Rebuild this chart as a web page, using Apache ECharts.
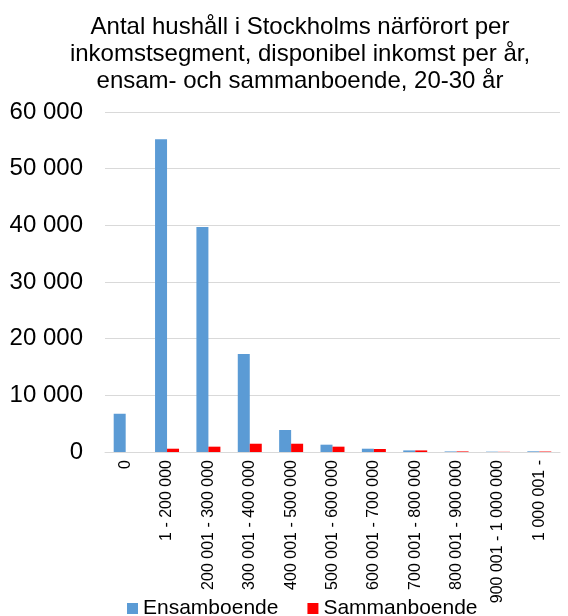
<!DOCTYPE html>
<html>
<head>
<meta charset="utf-8">
<script src="https://cdn.jsdelivr.net/npm/echarts@6/dist/echarts.min.js"></script>
<style>
  html, body { margin: 0; padding: 0; background: #fff; }
  #chart { width: 568px; height: 616px; }
</style>
</head>
<body>
<div id="chart"></div>
<script>
  // inkomstsegment
  var categories = ['0', '1 - 200 000', '200 001 - 300 000', '300 001 - 400 000', '400 001 - 500 000',
    '500 001 - 600 000', '600 001 - 700 000', '700 001 - 800 000', '800 001 - 900 000',
    '900 001 - 1 000 000', '1 000 001 -'];
  var ensamboende = [6750, 55200, 39700, 17300, 3880, 1290, 580, 280, 100, 60, 120];
  var sammanboende = [0, 580, 940, 1460, 1460, 940, 530, 280, 100, 30, 80];

  var font = 'Liberation Sans, Arial, sans-serif';

  var chart = echarts.init(document.getElementById('chart'));
  chart.setOption({
    animation: false,
    title: {
      text: 'Antal hushåll i Stockholms närförort per\ninkomstsegment, disponibel inkomst per år,\nensam- och sammanboende, 20-30 år',
      left: 295,
      textAlign: 'center',
      top: 9,
      textStyle: { fontFamily: font, fontSize: 24, fontWeight: 'normal', color: '#000', lineHeight: 27 }
    },
    legend: {
      bottom: -8,
      left: 122,
      itemWidth: 11,
      itemHeight: 11,
      itemGap: 29,
      icon: 'rect',
      textStyle: { fontFamily: font, fontSize: 21, color: '#000' },
      data: ['Ensamboende', 'Sammanboende']
    },
    grid: { left: 105, right: 8, top: 112, bottom: 164 },
    xAxis: {
      type: 'category',
      data: categories,
      axisLine: { lineStyle: { color: '#d9d9d9' } },
      axisTick: { show: false },
      axisLabel: { rotate: 90, interval: 0, fontFamily: font, fontSize: 16, color: '#000', margin: 8 }
    },
    yAxis: {
      type: 'value',
      min: 0,
      max: 60000,
      interval: 10000,
      splitLine: { lineStyle: { color: '#d9d9d9' } },
      axisLine: { show: false },
      axisTick: { show: false },
      axisLabel: {
        fontFamily: font, fontSize: 24, color: '#000', margin: 22,
        formatter: function (v) { return v.toString().replace(/\B(?=(\d{3})+(?!\d))/g, ' '); }
      }
    },
    series: [
      { name: 'Ensamboende', type: 'bar', data: ensamboende, itemStyle: { color: '#5b9bd5' }, barGap: '0%', barCategoryGap: '42%' },
      { name: 'Sammanboende', type: 'bar', data: sammanboende, itemStyle: { color: '#ff0000' } }
    ]
  });
</script>
</body>
</html>
